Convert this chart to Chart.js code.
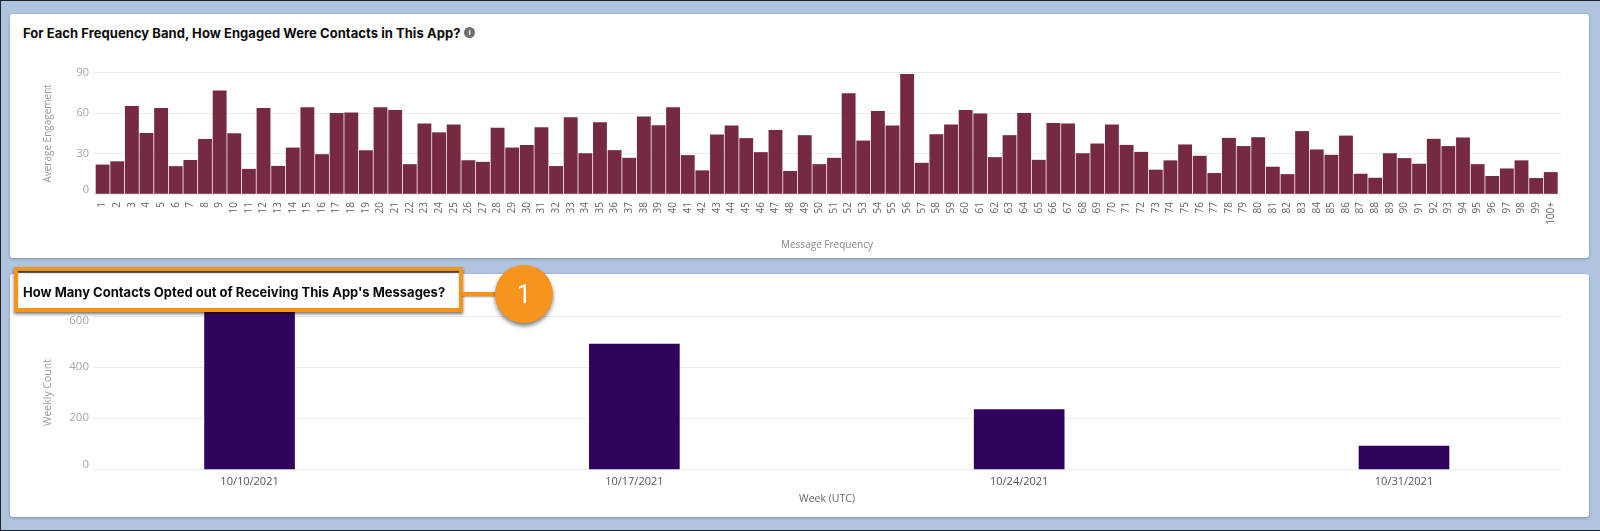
<!DOCTYPE html>
<html>
<head>
<meta charset="utf-8">
<script src="https://cdn.jsdelivr.net/npm/chart.js@4"></script>
<style>
    html, body { margin: 0; padding: 0; }
    body { width: 1600px; height: 531px; position: relative; overflow: hidden; background: #b0c4e0; }
    #frame { position: absolute; inset: 0; border: solid #1c2430; border-width: 1px 0 1px 1px; z-index: 9; pointer-events: none; }
    .card { position: absolute; left: 10px; width: 1579px; background: #fff; border-radius: 3px; box-shadow: 0 1px 3px rgba(60,70,90,.45); }
    canvas { position: absolute; left: 10px; }
    .title { position: absolute; left: 23px; font: 700 13px Inter, sans-serif; color: #0b0b0b; white-space: nowrap; line-height: 16px; z-index: 5; }
    #info { position: absolute; left: 464px; top: 27px; width: 11px; height: 11px; border-radius: 50%; background: #706e6b; color: #fff; font: bold 8px/11px "Liberation Sans", sans-serif; text-align: center; }
    #callout { position: absolute; left: 14px; top: 267px; width: 441px; height: 37px; background: #fff; border: 4px solid #f7941d; box-shadow: 0 2px 3px rgba(0,0,0,.55), inset 0 2px 1px #444; z-index: 3; }
    #connector { position: absolute; left: 462px; top: 292px; width: 36px; height: 4px; background: #f7941d; box-shadow: 0 1px 2px rgba(0,0,0,.4); z-index: 3; }
    #bubble { position: absolute; left: 495px; top: 265px; width: 58px; height: 58px; border-radius: 50%; background: #f7941d; box-shadow: 0 3px 4px rgba(0,0,0,.5); color: #fff; font: 400 26px/58px Roboto, sans-serif; text-align: center; z-index: 4; }
</style>
</head>
<body>
<div class="card" style="top:14px;height:244px"></div>
<div class="card" style="top:274px;height:243px"></div>
<canvas id="engagementChart" style="top:55px" width="1579" height="200"></canvas>
<canvas id="optoutChart" style="top:280px" width="1579" height="235"></canvas>
<div class="title" style="top:25px;letter-spacing:.05px">For Each Frequency Band, How Engaged Were Contacts in This App?</div>
<div id="info">i</div>
<div id="callout"></div>
<div id="connector"></div>
<div id="bubble">1</div>
<div class="title" style="top:284px">How Many Contacts Opted out of Receiving This App's Messages?</div>
<div id="frame"></div>

<script>
const FREQ_LABELS = [
    '1', '2', '3', '4', '5', '6', '7', '8', '9', '10',
    '11', '12', '13', '14', '15', '16', '17', '18', '19', '20',
    '21', '22', '23', '24', '25', '26', '27', '28', '29', '30',
    '31', '32', '33', '34', '35', '36', '37', '38', '39', '40',
    '41', '42', '43', '44', '45', '46', '47', '48', '49', '50',
    '51', '52', '53', '54', '55', '56', '57', '58', '59', '60',
    '61', '62', '63', '64', '65', '66', '67', '68', '69', '70',
    '71', '72', '73', '74', '75', '76', '77', '78', '79', '80',
    '81', '82', '83', '84', '85', '86', '87', '88', '89', '90',
    '91', '92', '93', '94', '95', '96', '97', '98', '99', '100+',
];
const ENGAGEMENT = [
    21.6, 24, 65, 45, 63.5, 20.4, 25, 40.6, 76.5, 44.8,
    18.4, 63.5, 20.6, 34.2, 64.2, 29.3, 59.8, 60.2, 32.2, 64.2,
    62, 21.9, 52.1, 45.5, 51.4, 24.8, 23.6, 48.9, 34.2, 36.1,
    49.3, 20.5, 56.7, 30, 53, 32.3, 26.6, 57.2, 50.8, 64.1,
    28.6, 17.3, 43.9, 50.5, 41.2, 30.8, 47.3, 16.8, 43.4, 21.9,
    26.6, 74.5, 39.4, 61.4, 50.5, 88.8, 22.9, 44.1, 51.3, 62.1,
    59.4, 27.1, 43.4, 59.9, 25.1, 52.5, 52, 30, 37.2, 51.3,
    36.2, 31, 17.8, 24.7, 36.5, 28.1, 15.3, 41.4, 35.3, 41.9,
    20, 14.5, 46.4, 32.8, 28.8, 43.1, 14.8, 11.8, 30, 26.4,
    22.2, 40.7, 35.3, 41.7, 21.9, 13.1, 18.7, 24.7, 11.6, 16,
];
const WEEK_LABELS = ['10/10/2021', '10/17/2021', '10/24/2021', '10/31/2021'];
const WEEKLY_COUNTS = [620, 490, 234, 91];

const GRID_COLOR = '#ececec';

function makeBarChart(canvasId, opts) {
    return new Chart(document.getElementById(canvasId), {
        type: 'bar',
        data: {
            datasets: [{
                data: opts.values.map((v, i) => ({ x: i, y: v })),
                backgroundColor: opts.color,
                barThickness: opts.barWidth,
                clip: false,
            }],
        },
        options: {
            responsive: false,
            animation: false,
            layout: { padding: { top: opts.padTop, right: 28, bottom: 0, left: 0 } },
            plugins: { legend: { display: false }, tooltip: { enabled: false } },
            scales: {
                x: {
                    type: 'linear',
                    offset: false,
                    min: opts.xMin,
                    max: opts.xMax,
                    afterFit: scale => { scale.height = opts.xHeight; },
                    grid: { display: false, drawTicks: false, offset: false },
                    border: { display: false },
                    ticks: {
                        stepSize: 1,
                        autoSkip: false,
                        includeBounds: false,
                        minRotation: opts.rotation,
                        maxRotation: opts.rotation,
                        padding: opts.tickPad,
                        color: opts.tickColor,
                        font: { family: '"Open Sans"', size: opts.xTickSize },
                        callback: value => opts.labels[value],
                    },
                    title: {
                        display: true,
                        text: opts.xTitle,
                        color: opts.titleColor,
                        font: { family: '"Open Sans"', size: opts.titleSize },
                        padding: { top: 0, bottom: opts.xTitlePad },
                    },
                },
                y: {
                    min: 0,
                    max: opts.yMax,
                    afterFit: scale => { scale.width = 83; },
                    grid: { color: GRID_COLOR, drawTicks: false },
                    border: { display: false },
                    ticks: {
                        stepSize: opts.yStep,
                        padding: 4,
                        color: '#a6a6a6',
                        // first and last labels sit inside the plot, not on their gridline
                        font: ctx => ({
                            family: '"Open Sans"',
                            size: opts.yTickSize,
                            lineHeight: ctx.tick && (ctx.tick.value === 0 || ctx.tick.value === opts.pushDown) ? 0.8 : 1.2,
                        }),
                        callback: value => {
                            if (value === 0) return ['0', ''];
                            if (value === opts.pushDown) return ['', String(value)];
                            return String(value);
                        },
                    },
                    title: {
                        display: true,
                        text: opts.yTitle,
                        color: '#999',
                        font: { family: '"Open Sans"', size: opts.titleSize },
                        padding: { top: 32, bottom: 0 },
                    },
                },
            },
        },
    });
}

makeBarChart('engagementChart', {
    labels: FREQ_LABELS,
    values: ENGAGEMENT,
    color: '#762a40',
    barWidth: 13.2,
    xMin: -0.657,
    xMax: 99.7,
    xHeight: 61,
    rotation: 90,
    tickPad: 8,
    tickColor: '#666',
    xTickSize: 10,
    titleSize: 10,
    yTickSize: 11,
    xTitle: 'Message Frequency',
    xTitlePad: 3.7,
    titleColor: '#888',
    yTitle: 'Average Engagement',
    yMax: 90,
    yStep: 30,
    pushDown: null,
    padTop: 17.7,
});

makeBarChart('optoutChart', {
    labels: WEEK_LABELS,
    values: WEEKLY_COUNTS,
    color: '#2f045c',
    barWidth: 90,
    xMin: -0.4068,
    xMax: 3.408,
    xHeight: 45.7,
    rotation: 0,
    tickPad: 6,
    tickColor: '#555',
    xTickSize: 11,
    titleSize: 10.5,
    yTickSize: 11.5,
    xTitle: 'Week (UTC)',
    xTitlePad: 9.7,
    titleColor: '#666',
    yTitle: 'Weekly Count',
    yMax: 600,
    yStep: 200,
    pushDown: 600,
    padTop: 36,
});
</script>
</body>
</html>
